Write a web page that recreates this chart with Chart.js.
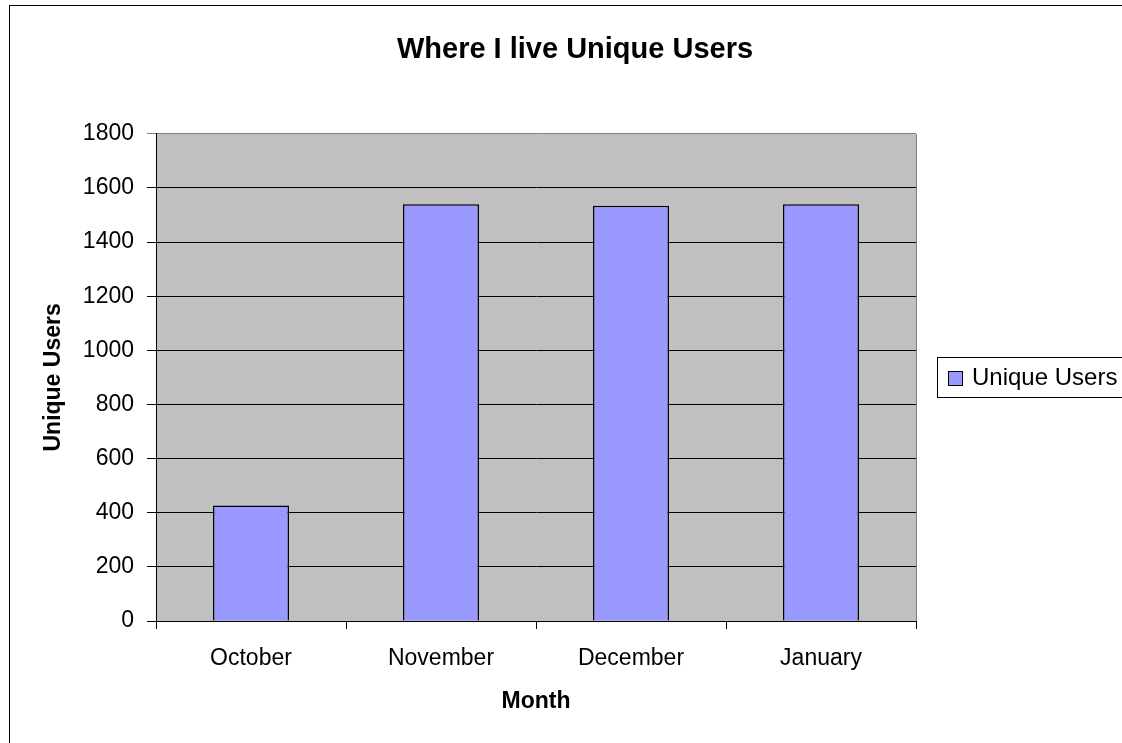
<!DOCTYPE html>
<html><head><meta charset="utf-8">
<script src="https://cdn.jsdelivr.net/npm/chart.js@4"></script>
<style>html,body{margin:0;padding:0;background:#fff;overflow:hidden}#wrap{width:1122px;height:743px}</style>
</head><body><div id="wrap"><canvas id="c" width="1122" height="743"></canvas></div>
<script>
const categories = ['October', 'November', 'December', 'January'];
const uniqueUsers = [427, 1540, 1534, 1540];
const yTickValues = [0, 200, 400, 600, 800, 1000, 1200, 1400, 1600, 1800];
const seriesLabel = 'Unique Users';
const chartTitle = 'Where I live Unique Users';
const xAxisTitle = 'Month';
const yAxisTitle = 'Unique Users';

const FONT = "'Liberation Sans', Arial, sans-serif";

const decor = {
  id: 'decor',
  beforeDraw(chart) {
    const ctx = chart.ctx, a = chart.chartArea;
    ctx.save();
    ctx.fillStyle = '#ffffff';
    ctx.fillRect(0, 0, chart.width, chart.height);
    ctx.fillStyle = '#C0C0C0';
    ctx.fillRect(a.left, a.top, a.right - a.left, a.bottom - a.top);
    ctx.restore();
  },
  beforeDatasetsDraw(chart) {
    const ctx = chart.ctx, a = chart.chartArea;
    ctx.save();
    ctx.strokeStyle = '#808080';
    ctx.lineWidth = 1;
    ctx.beginPath();
    ctx.moveTo(Math.round(a.right) + 0.5, a.top);
    ctx.lineTo(Math.round(a.right) + 0.5, a.bottom);
    ctx.stroke();
    ctx.restore();
  },
  afterDraw(chart) {
    const ctx = chart.ctx;
    ctx.save();
    ctx.strokeStyle = '#000000';
    ctx.lineWidth = 1;
    ctx.strokeRect(9.5, 5.5, 2000, 2000);
    const ds = chart.data.datasets[0];
    const lx = 937, ly = 357, lh = 40;
    ctx.fillStyle = '#ffffff';
    ctx.fillRect(lx, ly, 400, lh);
    ctx.strokeRect(lx + 0.5, ly + 0.5, 400, lh);
    ctx.fillStyle = ds.backgroundColor;
    ctx.fillRect(948, 371, 14, 14);
    ctx.strokeStyle = '#000000';
    ctx.strokeRect(948.5, 371.5, 14, 14);
    ctx.fillStyle = '#000000';
    ctx.font = '24px ' + FONT;
    ctx.textBaseline = 'middle';
    ctx.textAlign = 'left';
    ctx.fillText(ds.label, 972, 378);
    ctx.restore();
  }
};

new Chart(document.getElementById('c'), {
  type: 'bar',
  data: {
    labels: categories,
    datasets: [{
      label: seriesLabel,
      data: uniqueUsers,
      backgroundColor: '#9999FF',
      borderColor: '#000000',
      borderWidth: 1.5,
      barPercentage: 0.4,
      categoryPercentage: 1.0,
      yAxisID: 'y'
    }]
  },
  options: {
    responsive: false,
    devicePixelRatio: 1,
    animation: false,
    layout: { padding: { left: 28, right: 0, top: 0, bottom: 0 } },
    plugins: {
      legend: { display: false },
      tooltip: { enabled: false },
      title: {
        display: true,
        text: chartTitle,
        color: '#000000',
        font: { family: FONT, size: 29, weight: 'bold' },
        padding: { top: 33, bottom: 66 }
      }
    },
    scales: {
      x: {
        type: 'category',
        offset: true,
        grid: { display: true, offset: true, drawOnChartArea: false, tickLength: 8, color: '#000000' },
        border: { display: true, color: '#000000', width: 1 },
        ticks: { color: '#000000', font: { family: FONT, size: 23 }, padding: 16, maxRotation: 0 },
        title: { display: true, text: xAxisTitle, color: '#000000', font: { family: FONT, size: 23, weight: 'bold' }, padding: { top: 28, bottom: 28 } },
        afterFit(s) { s.height = 122; }
      },
      y: {
        type: 'linear',
        position: 'left',
        min: 0,
        max: 1800,
        afterBuildTicks(s) { s.ticks = yTickValues.map(v => ({ value: v })); },
        grid: {
          display: true, drawOnChartArea: true, tickLength: 9,
          color: (c) => (c.tick && c.tick.value === 1800) ? '#808080' : '#000000'
        },
        border: { display: true, color: '#000000', width: 1 },
        ticks: { color: '#000000', font: { family: FONT, size: 23 }, padding: 13, callback: (v) => String(v) },
        title: { display: true, text: yAxisTitle, color: '#000000', font: { family: FONT, size: 23, weight: 'bold' }, padding: { top: 12, bottom: 10 } },
        afterFit(s) { s.width = 128; }
      },
      yRight: {
        type: 'linear',
        position: 'right',
        display: true,
        grid: { display: false, drawTicks: false },
        border: { display: false },
        ticks: { display: false },
        afterFit(s) { s.width = 206; }
      }
    }
  },
  plugins: [decor]
});
</script>
</body></html>
